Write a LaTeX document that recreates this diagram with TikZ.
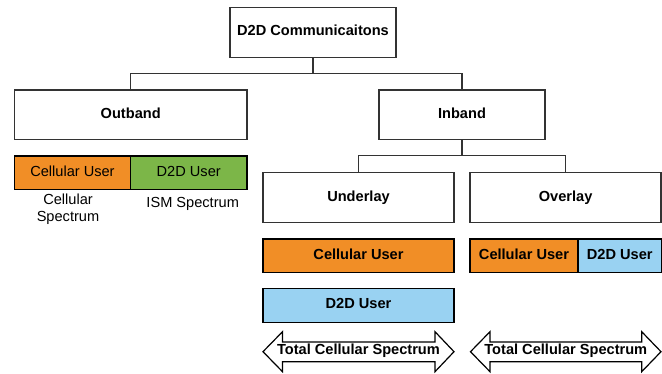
\documentclass[tikz,border=0pt]{standalone}
\usepackage{fontspec}
\setmainfont{Liberation Sans}
\definecolor{cOrange}{HTML}{F18E26}
\definecolor{cGreen}{HTML}{7CB648}
\definecolor{cBlue}{HTML}{99D2F2}
\definecolor{cLine}{HTML}{333333}
\begin{document}
\begin{tikzpicture}[x=1pt,y=-1pt,
  every node/.style={font=\fontsize{14.6}{17}\selectfont},
  tpos/.style={text height=10.5pt,text depth=3.5pt},
  wbox/.style={draw=cLine,line width=1.5pt,fill=white,inner sep=0pt,outer sep=0pt,tpos,font=\fontsize{14.6}{17}\selectfont\bfseries},
  cbox/.style={draw=black,line width=1.5pt,inner sep=0pt,outer sep=0pt,tpos},
  conn/.style={draw=cLine,line width=1.5pt},
  spanarrow/.style={draw=black,line width=1.2pt,fill=white,line join=miter}
]
\useasboundingbox (0,0) rectangle (662,374);
% hierarchy boxes
\node[wbox,minimum width=166pt,minimum height=50pt] (top) at (313,32.3) {D2D Communicaitons};
\node[wbox,minimum width=232.6pt,minimum height=49.7pt] (outband) at (130.7,114.8) {Outband};
\node[wbox,minimum width=166pt,minimum height=49.7pt] (inband) at (462,114.8) {Inband};
\node[wbox,minimum width=191pt,minimum height=50pt] (underlay) at (358.5,197.7) {Underlay};
\node[wbox,minimum width=191pt,minimum height=50pt] (overlay) at (565.6,197.7) {Overlay};
% connectors
\coordinate (j1) at (313,73.7);
\coordinate (j2) at (462,155.7);
\draw[conn] (top.south) -- (j1);
\draw[conn] (outband.north) |- (j1) -| (inband.north);
\draw[conn] (inband.south) -- (j2);
\draw[conn] (underlay.north) |- (j2) -| (overlay.north);
% outband spectrum
\node[cbox,fill=cOrange,minimum width=116.1pt,minimum height=33.7pt] (ocell) at (72.45,172.8) {Cellular User};
\node[cbox,fill=cGreen,minimum width=116.5pt,minimum height=33.7pt] (od2d) at (188.75,172.8) {D2D User};
\node[align=center,inner sep=0pt] (ocs) at (68,209.5) {Cellular\\Spectrum};
\node[inner sep=0pt] (oism) at (192.7,204) {ISM Spectrum};
% underlay spectrum
\node[cbox,fill=cOrange,minimum width=191pt,minimum height=33.3pt,font=\fontsize{14.6}{17}\selectfont\bfseries] (ucell) at (358.5,255.7) {Cellular User};
\node[cbox,fill=cBlue,minimum width=191pt,minimum height=33.6pt,font=\fontsize{14.6}{17}\selectfont\bfseries] (ud2d) at (358.5,305.5) {D2D User};
% overlay spectrum
\node[cbox,fill=cOrange,minimum width=108pt,minimum height=33.3pt,font=\fontsize{14.6}{17}\selectfont\bfseries] (vcell) at (524,255.7) {Cellular User};
\node[cbox,fill=cBlue,minimum width=83.6pt,minimum height=33.3pt,font=\fontsize{14.6}{17}\selectfont\bfseries] (vd2d) at (619.8,255.7) {D2D User};
% double arrows
\path[spanarrow] (263,351.7) -- (282.5,331.7) -- (282.5,342) -- (435,342) -- (435,331.7) -- (454,351.7) -- (435,371.7) -- (435,361.7) -- (282.5,361.7) -- (282.5,371.7) -- cycle;
\node[font=\fontsize{14.6}{17}\selectfont\bfseries,inner sep=0pt] (uarrow) at (358.5,351.2) {Total Cellular Spectrum};
\path[spanarrow] (470.5,351.7) -- (490,331.7) -- (490,342) -- (641.7,342) -- (641.7,331.7) -- (661,351.7) -- (641.7,371.7) -- (641.7,361.7) -- (490,361.7) -- (490,371.7) -- cycle;
\node[font=\fontsize{14.6}{17}\selectfont\bfseries,inner sep=0pt] (varrow) at (565.8,351.2) {Total Cellular Spectrum};
\end{tikzpicture}
\end{document}
